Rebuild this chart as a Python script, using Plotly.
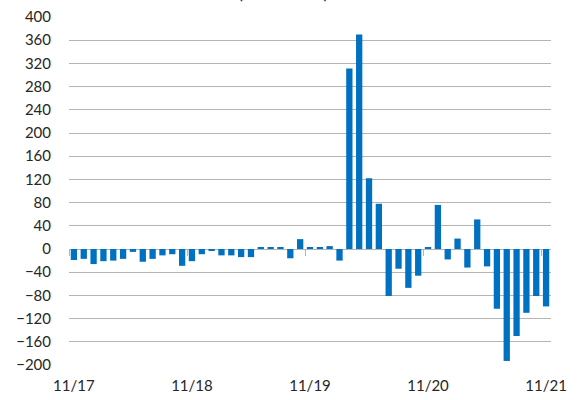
import plotly.graph_objects as go

# Monthly categories from 11/17 to 11/21
months = []
for y in range(17, 22):
    for m in range(1, 13):
        if (y == 17 and m < 11) or (y == 21 and m > 11):
            continue
        months.append(f"{m}/{y}")

values = [-19, -17, -26, -21, -20, -17, -5, -22, -17, -11, -9, -29,
          -21, -9, -3, -11, -11, -14, -14, 3, 3, 3, -16, 17,
          3, 3, 5, -20, 311, 370, 122, 78, -81, -34, -67, -46,
          2, 76, -18, 18, -32, 51, -30, -103, -193, -150, -110, -81,
          -99]

y_ticks = list(range(-200, 401, 40))
title_text = "(thousands)"

font = dict(family="Lato, 'Liberation Sans', sans-serif", size=15, color="#262626")
grid = "#b4b4b4"
x_range = [-0.5, len(months) - 0.5]

fig = go.Figure()
fig.add_trace(go.Bar(x=months, y=values, marker=dict(color="#0070C0", line=dict(width=0)),
                     xaxis="x", yaxis="y", hoverinfo="x+y"))
# invisible helper trace that carries the tick-mark axis at the zero line
fig.add_trace(go.Scatter(x=months, y=values, mode="markers", marker=dict(opacity=0),
                         xaxis="x2", yaxis="y", hoverinfo="skip", showlegend=False))

fig.update_layout(
    width=577, height=400,
    margin=dict(l=69, r=26, t=17, b=35),
    paper_bgcolor="white", plot_bgcolor="white",
    font=font,
    showlegend=False,
    bargap=0.36,
    xaxis=dict(type="category", categoryorder="array", categoryarray=months,
               range=x_range, autorange=False, automargin=False,
               tickmode="linear", tick0=0, dtick=12,
               showgrid=False, showline=False, zeroline=False,
               ticks="outside", ticklen=7, tickcolor="rgba(0,0,0,0)",
               tickfont=font),
    xaxis2=dict(type="category", categoryorder="array", categoryarray=months,
                range=x_range, autorange=False, automargin=False,
                overlaying="x", anchor="free", position=1/3,
                tickmode="linear", tick0=0, dtick=12, tickson="boundaries",
                showticklabels=False, showgrid=False, showline=False, zeroline=False,
                ticks="outside", ticklen=6, tickcolor=grid, tickwidth=1),
    yaxis=dict(range=[-200, 400], autorange=False, automargin=False,
               tickmode="array", tickvals=y_ticks,
               showgrid=True, gridcolor=grid, gridwidth=1,
               zeroline=True, zerolinecolor=grid, zerolinewidth=1,
               showline=False, ticks="outside", ticklen=14,
               tickcolor="rgba(0,0,0,0)", tickfont=font),
    annotations=[dict(text=title_text, xref="paper", yref="paper",
                      x=(283 - 69) / 482, y=1 + (17 - 5) / 348.3,
                      xanchor="center", yanchor="bottom", showarrow=False,
                      font=dict(family=font["family"], size=18, color="#262626"))],
)

fig.write_html("out.html", config={"displayModeBar": False},
               post_script="document.body.style.margin='0';document.body.style.overflow='hidden';")
